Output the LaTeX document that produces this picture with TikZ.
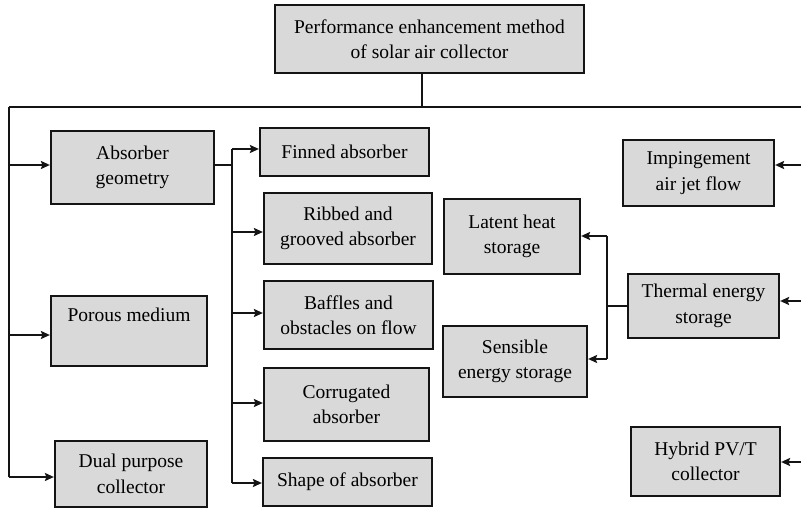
\documentclass[tikz,border=0pt]{standalone}
\usepackage{fontspec}
\setmainfont{Liberation Serif}
\usetikzlibrary{arrows.meta}
\definecolor{boxfill}{HTML}{D9D9D9}
\definecolor{ink}{HTML}{141414}
\tikzset{
  box/.style={draw=ink, fill=boxfill, line width=2.2pt, inner sep=0pt, align=center,
    font=\fontsize{19.5}{25.5}\selectfont},
  conn/.style={draw=ink, line width=2.2pt},
  arr/.style={conn, -{Stealth[length=9pt,width=8pt,inset=1.5pt]}},
}
\newcommand{\bx}[6]{%
  \pgfmathsetmacro{\bw}{#4-#2}\pgfmathsetmacro{\bh}{#5-#3}%
  \node[box, minimum width=\bw pt, minimum height=\bh pt] (#1) at ({(#2+#4)/2},{(#3+#5)/2}) {#6};}
\begin{document}
\begin{tikzpicture}[x=1pt,y=-1pt]
\useasboundingbox (0,0) rectangle (801,508);
\bx{top}{275}{5}{584}{73}{Performance enhancement method\\of solar air collector}
\bx{absgeo}{51}{131}{214}{204}{Absorber\\geometry}
\bx{porous}{51}{296}{207}{366}{Porous medium\\\strut}
\bx{dual}{55}{441}{207}{507}{Dual purpose\\collector}
\bx{finned}{260}{128}{429}{176}{Finned absorber}
\bx{ribbed}{264}{193}{432}{264}{Ribbed and\\grooved absorber}
\bx{baffles}{264}{281}{433}{349}{Baffles and\\obstacles on flow}
\bx{corr}{264}{368}{429}{441}{Corrugated\\absorber}
\bx{shape}{263}{458}{432}{506}{Shape of absorber}
\bx{latent}{444}{199}{580}{274}{Latent heat\\storage}
\bx{sensible}{443}{326}{587}{397}{Sensible\\energy storage}
\bx{imping}{623}{140}{774}{206}{Impingement\\air jet flow}
\bx{thermal}{628}{274}{779}{338}{Thermal energy\\storage}
\bx{hybrid}{631}{427}{780}{496}{Hybrid PV/T\\collector}
% main bus
\coordinate (busM) at (422,107);
\coordinate (busL) at (9,107);
\coordinate (busR) at (801,107);
\draw[conn] (top.south -| busM) -- (busM);
\draw[conn] (busL) -- (busR);
\coordinate (l1) at (9,165);
\coordinate (l2) at (9,335);
\coordinate (l3) at (9,477);
\draw[conn] (busL) -- (l3);
\draw[arr] (l1) -- (l1 -| absgeo.west);
\draw[arr] (l2) -- (l2 -| porous.west);
\draw[arr] (l3) -- (l3 -| dual.west);
% absorber geometry bus
\coordinate (a0) at (232,165);
\coordinate (a1) at (232,149);
\coordinate (a2) at (232,232);
\coordinate (a3) at (232,313);
\coordinate (a4) at (232,403);
\coordinate (a5) at (232,483);
\draw[conn] (a0 -| absgeo.east) -- (a0);
\draw[conn] (a1) -- (a5);
\draw[arr] (a1) -- (a1 -| finned.west);
\draw[arr] (a2) -- (a2 -| ribbed.west);
\draw[arr] (a3) -- (a3 -| baffles.west);
\draw[arr] (a4) -- (a4 -| corr.west);
\draw[arr] (a5) -- (a5 -| shape.west);
% right side
\coordinate (r1) at (801,165);
\coordinate (r2) at (801,301);
\coordinate (r3) at (801,462);
\draw[arr] (r1) -- (r1 -| imping.east);
\draw[arr] (r2) -- (r2 -| thermal.east);
\draw[arr] (r3) -- (r3 -| hybrid.east);
% thermal storage bus
\coordinate (t0) at (607,306);
\coordinate (t1) at (607,236);
\coordinate (t2) at (607,359);
\draw[conn] (t0 -| thermal.west) -- (t0);
\draw[conn] (t1) -- (t2);
\draw[arr] (t1) -- (t1 -| latent.east);
\draw[arr] (t2) -- (t2 -| sensible.east);
\end{tikzpicture}
\end{document}
